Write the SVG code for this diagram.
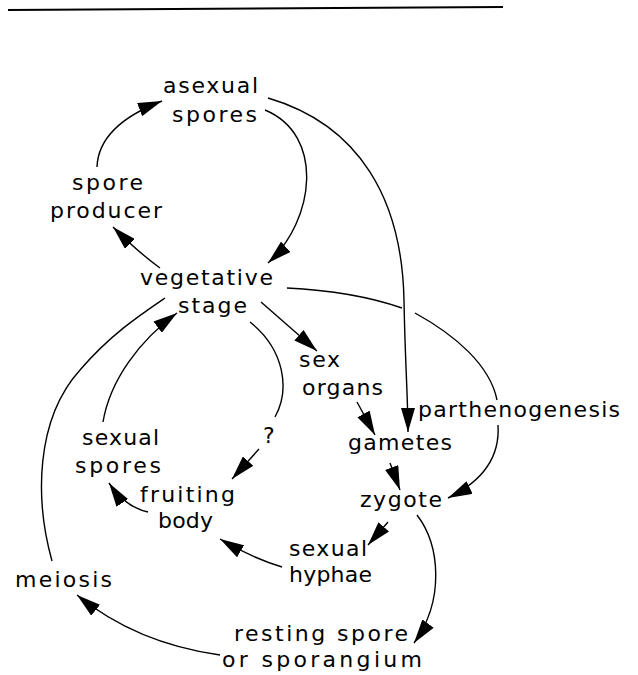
<svg xmlns="http://www.w3.org/2000/svg" width="638" height="675" viewBox="0 0 638 675">
<style>
text{font-family:"DejaVu Sans","Liberation Sans",sans-serif;font-size:22px;fill:#000;}
.c{fill:none;stroke:#000;stroke-width:1.4;}
.a{marker-end:url(#ah);}
</style>
<defs>
<marker id="ah" viewBox="0 0 24 14" refX="24" refY="7" markerWidth="24" markerHeight="14" markerUnits="userSpaceOnUse" orient="auto">
<path d="M0,0 L24,7 L0,14 z" fill="#000"/>
</marker>
</defs>
<rect width="638" height="675" fill="#fff"/>
<path d="M8,10 L503,7" stroke="#000" stroke-width="2" fill="none"/>
<g id="asexual-spores"><text x="163" y="93" textLength="95" lengthAdjust="spacing">asexual</text><text x="172" y="122" textLength="85" lengthAdjust="spacing">spores</text></g>
<g id="spore-producer"><text x="72" y="190" textLength="71" lengthAdjust="spacing">spore</text><text x="50" y="218" textLength="112" lengthAdjust="spacing">producer</text></g>
<g id="vegetative-stage"><text x="140" y="285" textLength="133" lengthAdjust="spacing">vegetative</text><text x="178" y="313" textLength="69" lengthAdjust="spacing">stage</text></g>
<g id="sex-organs"><text x="299" y="367" textLength="41" lengthAdjust="spacing">sex</text><text x="302" y="395" textLength="81" lengthAdjust="spacing">organs</text></g>
<g id="gametes"><text x="348" y="450" textLength="104" lengthAdjust="spacing">gametes</text></g>
<g id="zygote"><text x="360" y="507" textLength="82" lengthAdjust="spacing">zygote</text></g>
<g id="sexual-spores"><text x="82" y="445" textLength="77" lengthAdjust="spacing">sexual</text><text x="75" y="473" textLength="86" lengthAdjust="spacing">spores</text></g>
<g id="fruiting-body"><text x="140" y="502" textLength="95" lengthAdjust="spacing">fruiting</text><text x="158" y="528" textLength="55" lengthAdjust="spacing">body</text></g>
<g id="sexual-hyphae"><text x="289" y="556" textLength="78" lengthAdjust="spacing">sexual</text><text x="289" y="582" textLength="83" lengthAdjust="spacing">hyphae</text></g>
<g id="meiosis"><text x="15" y="587" textLength="97" lengthAdjust="spacing">meiosis</text></g>
<g id="resting-spore"><text x="234" y="641" textLength="174" lengthAdjust="spacing">resting spore</text><text x="222" y="667" textLength="200" lengthAdjust="spacing">or sporangium</text></g>
<g id="connectors">
<path class="c a" d="M97,167 C98,140 118,118 162,101"/>
<path class="c a" d="M160,268 Q138,252 113,227"/>
<path class="c a" d="M265,110 C325,135 315,220 268,263"/>
<path class="c a" d="M268,98 C360,125 402,200 404,300 C405,360 408,400 408,432"/>
<path class="c" d="M287,288 C330,290 370,297 402,308"/>
<path class="c" d="M415,313 C455,335 490,365 497,400"/>
<path class="c a" d="M498,425 C500,455 485,480 448,498"/>
<text x="418" y="417" textLength="202" lengthAdjust="spacing">parthenogenesis</text>
<path class="c a" d="M261,302 L317,351"/>
<path class="c a" d="M357,402 L375,435"/>
<path class="c a" d="M390,463 L400,490"/>
<path class="c a" d="M388,522 L368,545"/>
<path class="c a" d="M417,515 C440,545 445,600 414,643"/>
<path class="c a" d="M220,655 C170,648 120,630 77,595"/>
<path class="c a" d="M282,567 Q252,558 220,539"/>
<path class="c a" d="M148,512 Q125,507 109,483"/>
<path class="c" d="M250,322 C285,350 290,390 275,417"/>
<text x="263" y="443" font-size="19">?</text>
<path class="c a" d="M259,449 L232,479"/>
<path class="c a" d="M103,422 C110,380 140,340 177,313"/>
<path class="c" d="M52,561 C35,500 35,420 80,370 C110,335 140,315 165,298"/>
</g>
</svg>
